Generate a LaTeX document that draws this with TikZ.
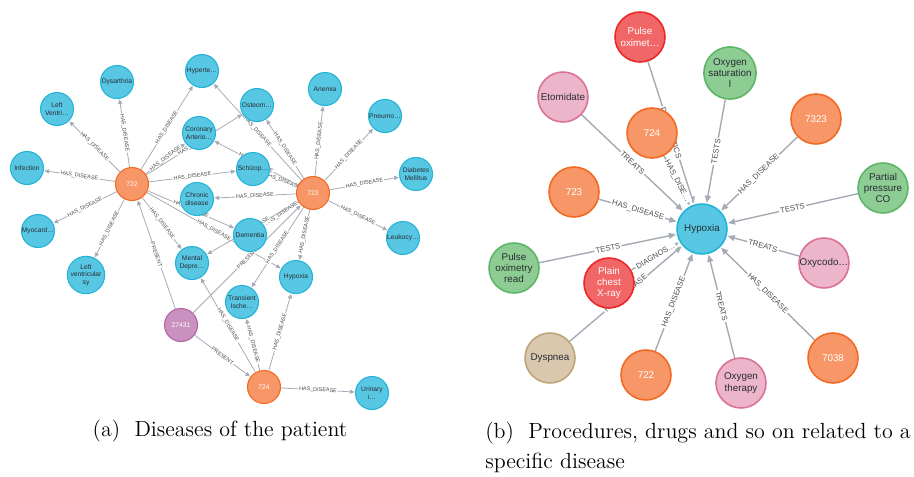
\documentclass[tikz,border=0pt]{standalone}
\usepackage{fontspec}
\usepackage{xcolor}
\usepackage{tikz}
\usetikzlibrary{arrows.meta}
\newfontfamily\neofont{Liberation Sans}
\definecolor{dzfill}{HTML}{57C7E3}
\definecolor{dzline}{HTML}{23B3D7}
\definecolor{admfill}{HTML}{F79767}
\definecolor{admline}{HTML}{F36924}
\definecolor{patfill}{HTML}{C990C0}
\definecolor{patline}{HTML}{B261A5}
\definecolor{drugfill}{HTML}{ECB5C9}
\definecolor{drugline}{HTML}{DA7298}
\definecolor{testfill}{HTML}{8DCC93}
\definecolor{testline}{HTML}{5DB665}
\definecolor{procfill}{HTML}{F16667}
\definecolor{procline}{HTML}{EB2728}
\definecolor{sympfill}{HTML}{D9C8AE}
\definecolor{sympline}{HTML}{C0A378}
\definecolor{edgegray}{HTML}{A5ABB6}
\definecolor{nodetext}{HTML}{2A2C34}
\definecolor{lbltext}{HTML}{4D4D4D}
\pgfdeclarelayer{bg}
\pgfsetlayers{bg,main}

\begin{document}
\begin{tikzpicture}[
    x=0.02cm, y=-0.02cm,
    lnode/.style={circle, minimum size=0.66cm, inner sep=0pt, line width=0.6pt, align=center,
                  font=\neofont\fontsize{3.8}{4.3}\selectfont},
    rnode/.style={circle, minimum size=1cm, inner sep=0pt, line width=0.9pt, align=center,
                  font=\neofont\fontsize{5.6}{6.4}\selectfont},
    disease/.style={fill=dzfill, draw=dzline, text=nodetext},
    admit/.style={fill=admfill, draw=admline, text=white},
    patient/.style={fill=patfill, draw=patline, text=white},
    drug/.style={fill=drugfill, draw=drugline, text=nodetext},
    labtest/.style={fill=testfill, draw=testline, text=nodetext},
    procedure/.style={fill=procfill, draw=procline, text=white},
    symptom/.style={fill=sympfill, draw=sympline, text=nodetext},
    arr/.style={-{Triangle[length=2.6pt, width=2.4pt]}, draw=edgegray, line width=0.45pt, shorten >=0.3pt},
    rarr/.style={-{Triangle[length=4pt, width=3.4pt]}, draw=edgegray, line width=0.8pt, shorten >=0.5pt},
    lbl/.style={sloped, fill=white, inner sep=0.5pt, text=lbltext,
                font=\neofont\fontsize{3.1}{3.5}\selectfont},
    rlbl/.style={sloped, fill=white, inner sep=0.7pt, text=lbltext,
                 font=\neofont\fontsize{4.4}{5}\selectfont},
    caption/.style={font=\fontsize{12.5}{17}\selectfont},
]
    \useasboundingbox (0,0) rectangle (914,477);

    % (a) diseases of the patient
    \node[lnode, admit] (l722) at (132,184) {722};
    \node[lnode, admit] (l723) at (313,193) {723};
    \node[lnode, admit] (l724) at (264,387) {724};
    \node[lnode, patient] (p27431) at (181,325) {27431};

    \node[lnode, disease] (dysarthria) at (117,82) {Dysarthria};
    \node[lnode, disease] (leftventri) at (57,109) {Left\\Ventri\ldots};
    \node[lnode, disease] (infection) at (27,168) {Infection};
    \node[lnode, disease] (hyperte) at (202,71) {Hyperte\ldots};
    \node[lnode, disease] (coronary) at (199,133) {Coronary\\Arterio\ldots};
    \node[lnode, disease] (chronic) at (197,199) {Chronic\\disease};
    \node[lnode, disease] (osteom) at (257,105) {Osteom\ldots};
    \node[lnode, disease] (anemia) at (325,89) {Anemia};
    \node[lnode, disease] (pneumo) at (385,116) {Pneumo\ldots};
    \node[lnode, disease] (diabetes) at (416,174) {Diabetes\\Mellitus};
    \node[lnode, disease] (schizop) at (253,169) {Schizop\ldots};
    \node[lnode, disease] (myocard) at (38,231) {Myocard\ldots};
    \node[lnode, disease] (leftvs) at (86,275) {Left\\ventricular\\sy};
    \node[lnode, disease] (mental) at (192,263) {Mental\\Depre\ldots};
    \node[lnode, disease] (dementia) at (250,235) {Dementia};
    \node[lnode, disease] (lhypoxia) at (296,277) {Hypoxia};
    \node[lnode, disease] (leukocy) at (403,238) {Leukocy\ldots};
    \node[lnode, disease] (transient) at (242,302) {Transient\\Ische\ldots};
    \node[lnode, disease] (urinary) at (372,393) {Urinary\\i\ldots};

    % (b) everything related to hypoxia
    \node[rnode, disease] (hypoxia) at (702,229) {Hypoxia};
    \node[rnode, procedure] (pulseox) at (640,37) {Pulse\\oximet\ldots};
    \node[rnode, drug] (etomidate) at (563,97) {Etomidate};
    \node[rnode, admit] (r724) at (652,133) {724};
    \node[rnode, admit] (r723) at (574,192) {723};
    \node[rnode, labtest] (oxysat) at (730,73) {Oxygen\\saturation\\l};
    \node[rnode, admit] (r7323) at (816,119) {7323};
    \node[rnode, labtest] (partial) at (883,188) {Partial\\pressure\\CO};
    \node[rnode, labtest] (pulseread) at (514,268) {Pulse\\oximetry\\read};
    \node[rnode, procedure] (chestxray) at (609,283) {Plain\\chest\\X-ray};
    \node[rnode, symptom] (dyspnea) at (550,358) {Dyspnea};
    \node[rnode, admit] (r722) at (646,375) {722};
    \node[rnode, drug] (oxycodo) at (824,263) {Oxycodo\ldots};
    \node[rnode, admit] (r7038) at (833,358) {7038};
    \node[rnode, drug] (oxytherapy) at (741,383) {Oxygen\\therapy};

    \begin{pgfonlayer}{bg}
    \draw[arr] (l722) -- node[lbl]{HAS\_DISEASE} (dysarthria);
    \draw[arr] (l722) -- node[lbl]{HAS\_DISEASE} (leftventri);
    \draw[arr] (l722) -- node[lbl]{HAS\_DISEASE} (infection);
    \draw[arr] (l722) -- node[lbl]{HAS\_DISEASE} (hyperte);
    \draw[arr] (l722) -- node[lbl]{HAS\_DISEASE} (coronary);
    \draw[arr] (l722) -- node[lbl]{HAS\_DISEASE} (osteom);
    \draw[arr] (l722) -- node[lbl]{HAS\_DISEASE} (schizop);
    \draw[arr] (l722) -- node[lbl]{HAS\_DISEASE} (dementia);
    \draw[arr] (l722) -- node[lbl]{HAS\_DISEASE} (lhypoxia);
    \draw[arr] (l722) -- node[lbl]{HAS\_DISEASE} (mental);
    \draw[arr] (l722) -- node[lbl]{HAS\_DISEASE} (myocard);
    \draw[arr] (l722) -- node[lbl]{HAS\_DISEASE} (leftvs);

    \draw[arr] (l723) -- node[lbl]{HAS\_DISEASE} (hyperte);
    \draw[arr] (l723) -- node[lbl]{HAS\_DISEASE} (osteom);
    \draw[arr] (l723) -- node[lbl]{HAS\_DISEASE} (anemia);
    \draw[arr] (l723) -- node[lbl]{HAS\_DISEASE} (pneumo);
    \draw[arr] (l723) -- node[lbl]{HAS\_DISEASE} (diabetes);
    \draw[arr] (l723) -- node[lbl]{HAS\_DISEASE} (schizop);
    \draw[arr] (l723) -- node[lbl]{HAS\_DISEASE} (coronary);
    \draw[arr] (l723) -- node[lbl]{HAS\_DISEASE} (chronic);
    \draw[arr] (l723) -- node[lbl]{HAS\_DISEASE} (leukocy);
    \draw[arr] (l723) -- node[lbl]{HAS\_DISEASE} (lhypoxia);
    \draw[arr] (l723) -- node[lbl]{HAS\_DISEASE} (dementia);
    \draw[arr] (l723) -- node[lbl]{HAS\_DISEASE} (mental);
    \draw[arr] (l723) -- node[lbl]{HAS\_DISEASE} (transient);

    \draw[arr] (l724) -- node[lbl]{HAS\_DISEASE} (urinary);
    \draw[arr] (l724) -- node[lbl]{HAS\_DISEASE} (transient);
    \draw[arr] (l724) -- node[lbl]{HAS\_DISEASE} (lhypoxia);
    \draw[arr] (l724) -- node[lbl]{HAS\_DISEASE} (mental);

    \draw[arr] (p27431) -- node[lbl]{PRESENT} (l722);
    \draw[arr] (p27431) -- node[lbl]{PRESENT} (l723);
    \draw[arr] (p27431) -- node[lbl]{PRESENT} (l724);

    \draw[rarr] (pulseox) -- node[rlbl]{DIAGNOSTICS} (hypoxia);
    \draw[rarr] (etomidate) -- node[rlbl]{TREATS} (hypoxia);
    \draw[rarr] (r724) -- node[rlbl]{HAS\_DISE\ldots} (hypoxia);
    \draw[rarr] (r723) -- node[rlbl]{HAS\_DISEASE} (hypoxia);
    \draw[rarr] (oxysat) -- node[rlbl]{TESTS} (hypoxia);
    \draw[rarr] (r7323) -- node[rlbl]{HAS\_DISEASE} (hypoxia);
    \draw[rarr] (partial) -- node[rlbl]{TESTS} (hypoxia);
    \draw[rarr] (oxycodo) -- node[rlbl]{TREATS} (hypoxia);
    \draw[rarr] (r7038) -- node[rlbl]{HAS\_DISEASE} (hypoxia);
    \draw[rarr] (oxytherapy) -- node[rlbl]{TREATS} (hypoxia);
    \draw[rarr] (r722) -- node[rlbl]{HAS\_DISEASE} (hypoxia);
    \draw[rarr] (dyspnea) -- node[rlbl]{HAS\_DISEASE} (hypoxia);
    \draw[rarr] (pulseread) -- node[rlbl]{TESTS} (hypoxia);
    \draw[rarr] (chestxray) -- node[rlbl]{DIAGNOS\ldots} (hypoxia);
    \end{pgfonlayer}

    % captions
    \node[caption] (capa) at (220,431) {(a)~~Diseases of the patient};
    \node[caption, anchor=north west, align=left, inner sep=0pt] (capb) at (485,422)
        {(b)~~Procedures, drugs and so on related to a\\specific disease};
\end{tikzpicture}
\end{document}
